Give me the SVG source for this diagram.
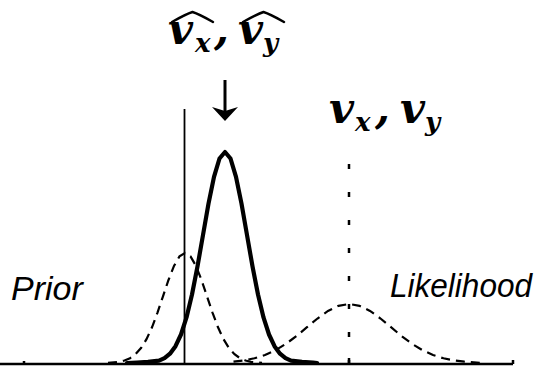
<svg xmlns="http://www.w3.org/2000/svg" width="543" height="370" viewBox="0 0 543 370">
<style>
.math{font-family:"DejaVu Serif","Liberation Serif",serif;font-weight:bold;font-style:italic;fill:#000}
.big{font-size:43px}
.sub{font-size:26px}
.lbl{font-family:"Liberation Sans",Arial,sans-serif;font-style:italic;font-size:34px;fill:#000}
.hat{fill:none;stroke:#000;stroke-width:2.5;stroke-linecap:round;stroke-linejoin:round}
.dash{fill:none;stroke:#000;stroke-width:2.2;stroke-dasharray:9 6}
.post{fill:none;stroke:#000;stroke-width:4.2;stroke-linejoin:round;stroke-linecap:round}
</style>
<rect width="543" height="370" fill="#fff"/>
<g id="estimate-label">
<text class="math big" x="168" y="44">v</text>
<text class="math sub" x="195" y="52">x</text>
<text class="math big" x="214" y="44">,</text>
<text class="math big" x="238" y="44">v</text>
<text class="math sub" x="263" y="52">y</text>
<path class="hat" d="M172,22 Q186,14 192.5,12 Q199,14 213,22"/>
<path class="hat" d="M243,22 Q257,14 263.5,12 Q270,14 284,22"/>
</g>
<g id="true-label">
<text class="math big" x="329" y="123">v</text>
<text class="math sub" x="355" y="131">x</text>
<text class="math big" x="375" y="123">,</text>
<text class="math big" x="400" y="123">v</text>
<text class="math sub" x="425" y="131">y</text>
</g>
<g id="prior-label"><text class="lbl" x="11" y="300">Prior</text></g>
<g id="likelihood-label"><text class="lbl" x="390" y="297" font-size="32" textLength="142" lengthAdjust="spacingAndGlyphs">Likelihood</text></g>
<g id="axis">
<path d="M0,364 H513 M24,364 V361 M349,364 V358 M513,364 V360" fill="none" stroke="#000" stroke-width="2.5"/>
</g>
<g id="prior">
<polyline class="dash" points="108,362.8 119,361.8 124.5,360.5 130,358.2 135.5,354.2 141,348.1 146.5,339.2 152,327.3 157.5,312.6 163,296.3 168.5,280 174,265.9 179.5,256.4 185,253 190.5,256.4 196,265.9 201.5,280 207,296.3 212.5,312.6 218,327.3 223.5,339.2 229,348.1 234.5,354.2 240,358.2 245.5,360.5 251,361.8 262,362.8"/>
</g>
<g id="likelihood">
<polyline class="dash" points="233.5,361.7 244,360.4 254.5,358.3 265,355 275.5,350.2 286,343.8 296.5,336 307,327.2 317.5,318.5 328,310.9 338.5,305.8 349,304 359.5,305.8 370,310.9 380.5,318.5 391,327.2 401.5,336 412,343.8 422.5,350.2 433,355 443.5,358.3 454,360.4 464.5,361.7 483,363"/>
</g>
<g id="posterior">
<polyline class="post" points="127,363 137,362.5 148,361.8 159,360.7 164.5,358.2 170,353.7 175.5,346.2 181,334.5 186.5,317.4 192,294.5 197.5,266.4 203,235 208.5,203.7 214,176.8 219.5,158.5 225,152 230.5,158.5 236,176.8 241.5,203.7 247,235 252.5,266.4 258,294.5 263.5,317.4 269,334.5 274.5,346.2 280,353.7 285.5,358.2 291,360.7 302,361.8 313,362.5 317,363"/>
</g>
<g id="connectors">
<line x1="184.5" y1="109" x2="184.5" y2="364" stroke="#000" stroke-width="1.8"/>
<line x1="349" y1="164" x2="349" y2="364" stroke="#000" stroke-width="2.5" stroke-dasharray="5 23"/>
<line x1="225" y1="80" x2="225" y2="112" stroke="#000" stroke-width="3"/>
<path d="M212,107 L225,121 L238,107 L225,111 Z" fill="#000"/>
</g>
</svg>
